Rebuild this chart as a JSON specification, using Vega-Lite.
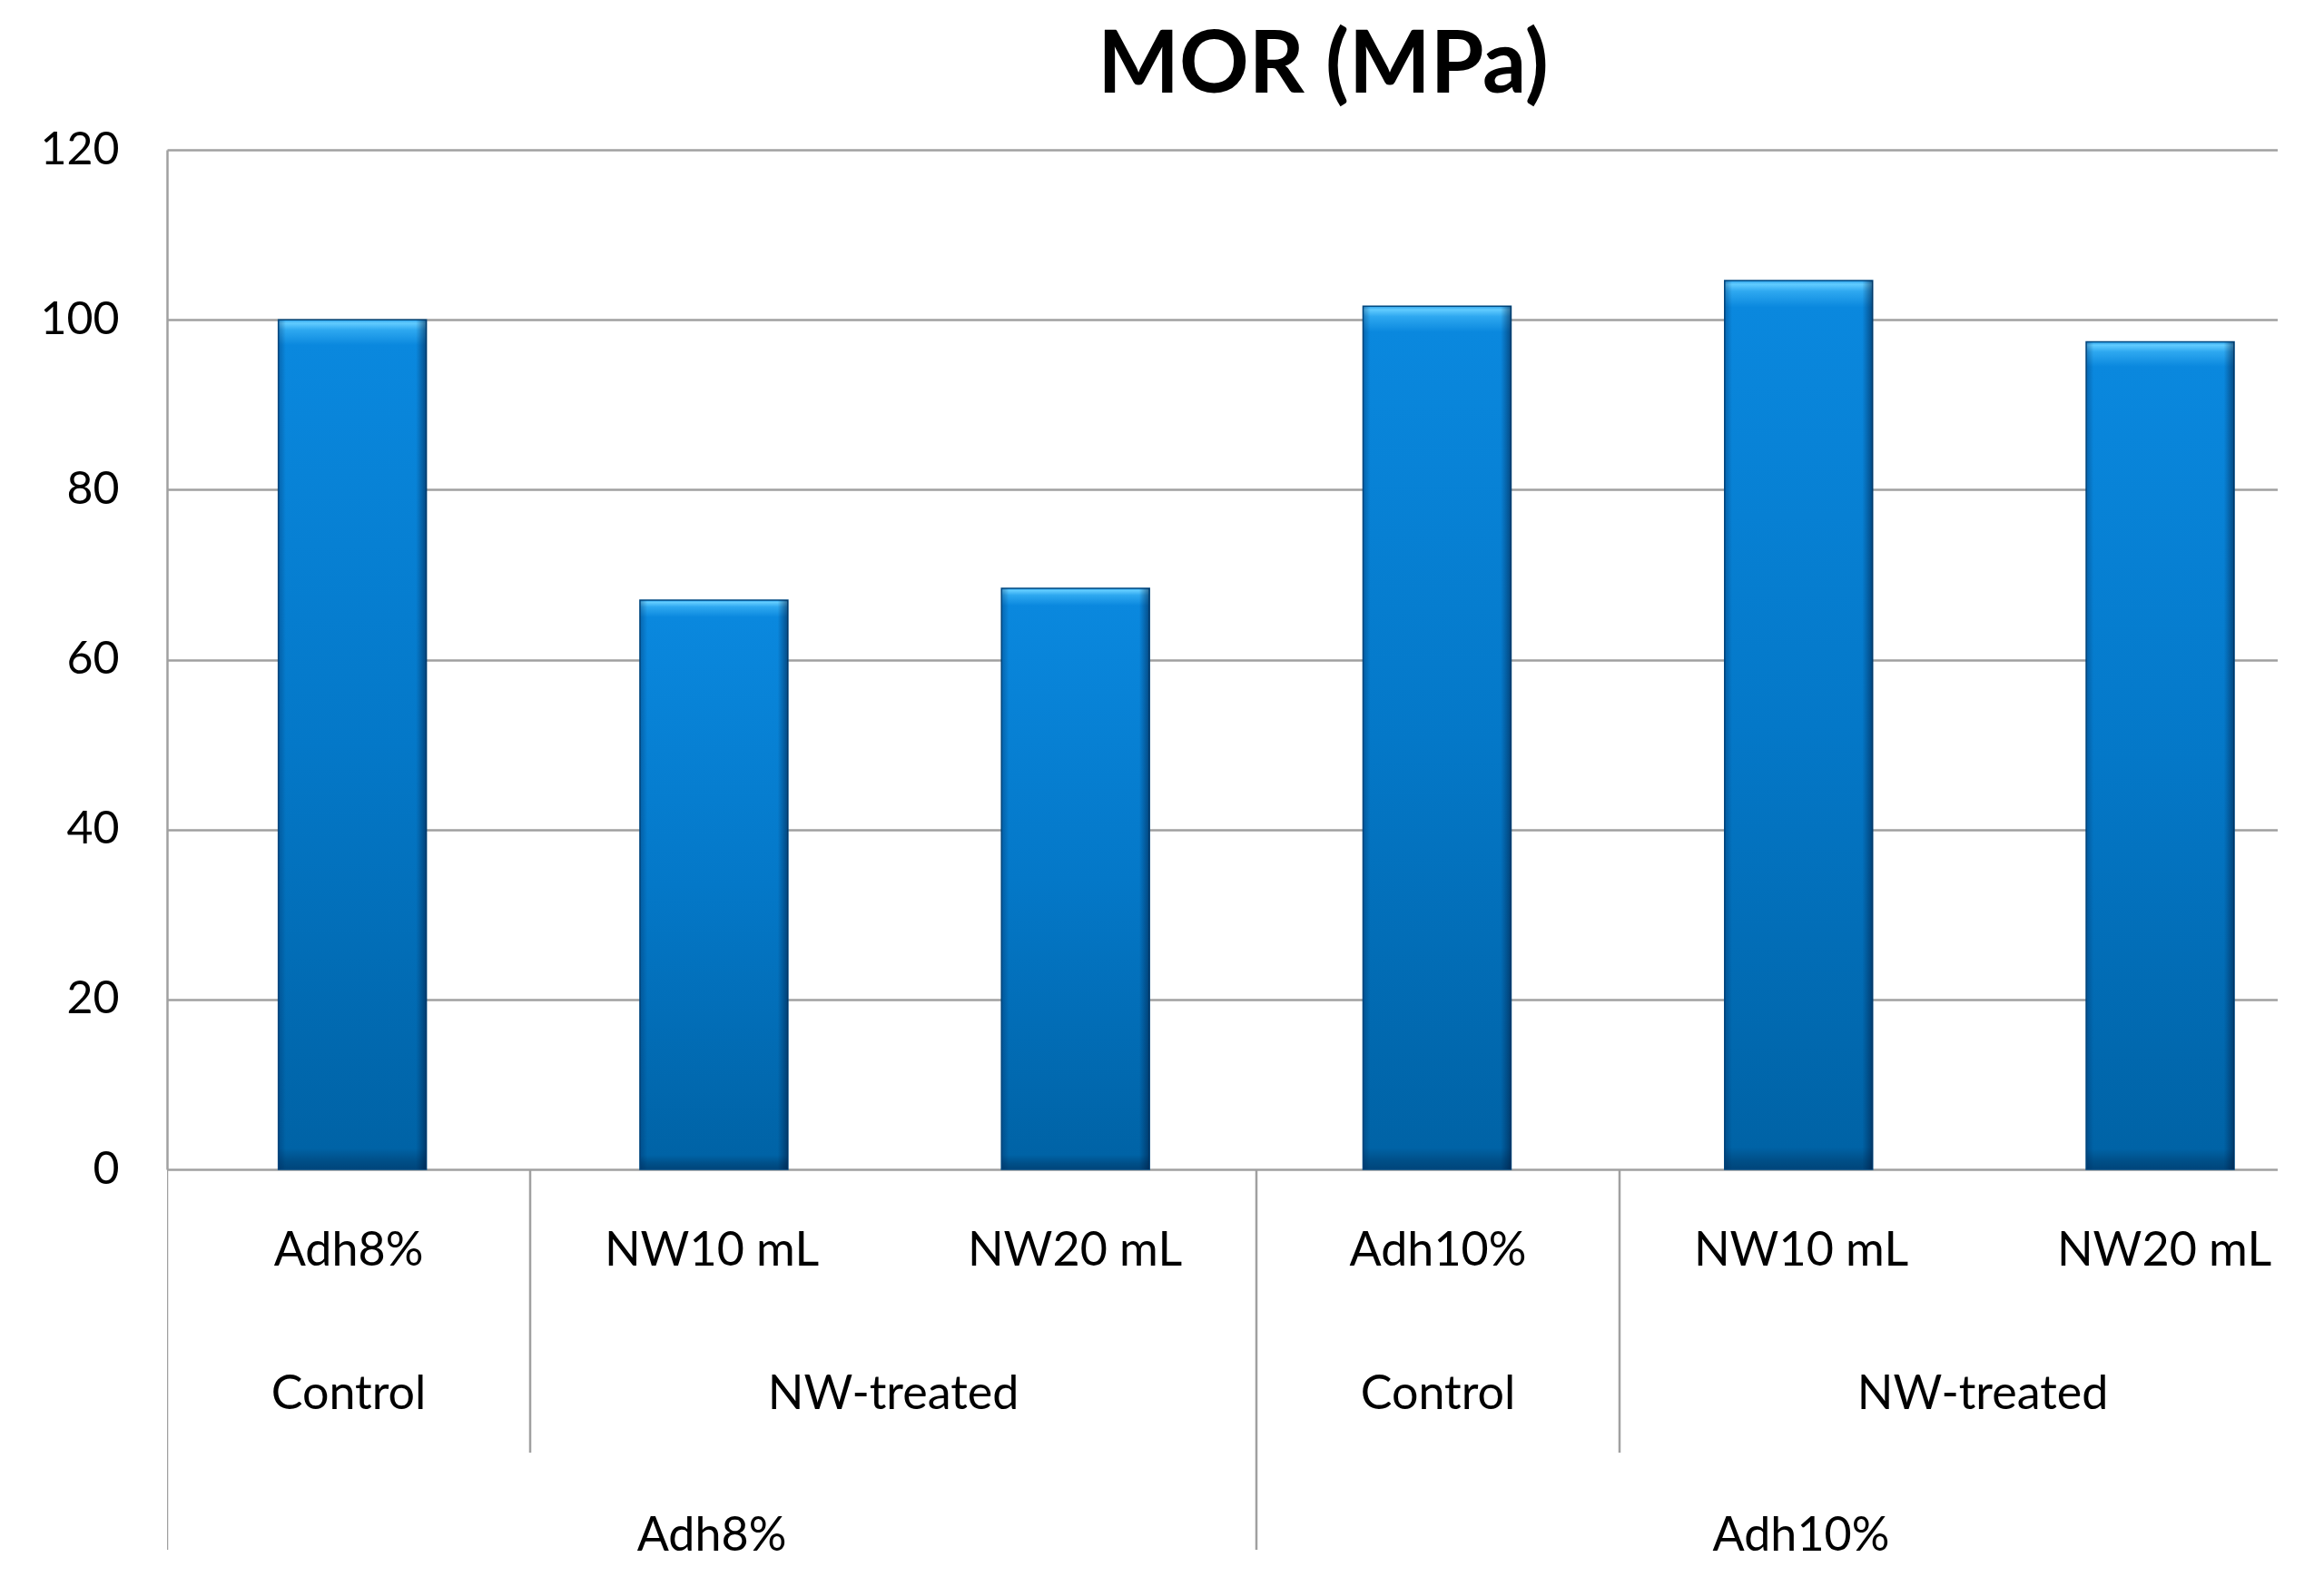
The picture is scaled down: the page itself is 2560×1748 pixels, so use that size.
{
  "$schema": "https://vega.github.io/schema/vega-lite/v6.json",
  "padding": {"left": 43, "top": 26, "right": 0, "bottom": 0},
  "background": "white",
  "bounds": "flush",
  "title": {
    "text": "MOR (MPa)",
    "font": "Lato",
    "fontSize": 95,
    "fontWeight": "bold",
    "color": "#000000",
    "anchor": "middle",
    "frame": "group",
    "baseline": "alphabetic",
    "offset": -57,
    "dx": 111
  },
  "data": {
    "values": [
      {"pos": 1, "name": "Adh8%", "category": "Control", "adh": "Adh8%", "mor": 100.0},
      {"pos": 2, "name": "NW10 mL", "category": "NW-treated", "adh": "Adh8%", "mor": 67.0},
      {"pos": 3, "name": "NW20 mL", "category": "NW-treated", "adh": "Adh8%", "mor": 68.4},
      {"pos": 4, "name": "Adh10%", "category": "Control", "adh": "Adh10%", "mor": 101.6},
      {"pos": 5, "name": "NW10 mL", "category": "NW-treated", "adh": "Adh10%", "mor": 104.6},
      {"pos": 6, "name": "NW20 mL", "category": "NW-treated", "adh": "Adh10%", "mor": 97.4}
    ]
  },
  "spacing": 0,
  "vconcat": [
    {
      "width": 2325,
      "height": 1123,
      "encoding": {
        "x": {"field": "pos", "type": "quantitative", "scale": {"domain": [0.5, 6.3125], "nice": false, "zero": false}, "axis": null},
        "y": {
          "field": "mor",
          "type": "quantitative",
          "scale": {"domain": [0, 120], "nice": false},
          "axis": {
            "title": null,
            "values": [0, 20, 40, 60, 80, 100, 120],
            "grid": true,
            "gridColor": "#a0a0a0",
            "gridWidth": 2.5,
            "domain": true,
            "domainColor": "#a0a0a0",
            "domainWidth": 2.5,
            "ticks": false,
            "tickSize": 0,
            "labelPadding": 53,
            "labelFont": "Lato",
            "labelFontSize": 50,
            "labelColor": "#000000"
          }
        }
      },
      "layer": [
        {
          "mark": {
            "type": "bar",
            "width": 163,
            "stroke": "#004a82",
            "strokeWidth": 1.5,
            "color": {
              "gradient": "linear",
              "x1": 0, "y1": 0, "x2": 0, "y2": 1,
              "stops": [
                {"offset": 0, "color": "#2a9fe8"},
                {"offset": 0.004, "color": "#62ccff"},
                {"offset": 0.012, "color": "#2ea8f0"},
                {"offset": 0.03, "color": "#0a88de"},
                {"offset": 0.5, "color": "#0478c8"},
                {"offset": 0.975, "color": "#0063a6"},
                {"offset": 0.99, "color": "#004f88"},
                {"offset": 1, "color": "#00457a"}
              ]
            }
          }
        },
        {
          "mark": {
            "type": "bar",
            "width": 163,
            "color": {
              "gradient": "linear",
              "x1": 0, "y1": 0, "x2": 1, "y2": 0,
              "stops": [
                {"offset": 0, "color": "rgba(0,40,90,0.35)"},
                {"offset": 0.05, "color": "rgba(0,40,90,0)"},
                {"offset": 0.93, "color": "rgba(0,30,70,0)"},
                {"offset": 1, "color": "rgba(0,25,60,0.55)"}
              ]
            }
          }
        }
      ]
    },
    {
      "width": 2325,
      "height": 419,
      "encoding": {
        "x": {"field": "pos", "type": "quantitative", "scale": {"domain": [0.5, 6.3125], "nice": false, "zero": false}, "axis": null}
      },
      "layer": [
        {
          "transform": [
            {"aggregate": [{"op": "min", "field": "pos", "as": "start"}], "groupby": ["adh", "category"]},
            {"joinaggregate": [{"op": "min", "field": "start", "as": "adhStart"}], "groupby": ["adh"]},
            {"calculate": "datum.start - 0.5", "as": "bx"},
            {"calculate": "datum.start == datum.adhStart ? 3 : 2", "as": "span"}
          ],
          "mark": {"type": "rule", "color": "#a0a0a0", "strokeWidth": 2.5, "clip": true},
          "encoding": {
            "x": {"field": "bx", "type": "quantitative"},
            "y": {"field": "span", "type": "quantitative", "scale": {"domain": [0, 2.686], "nice": false, "zero": false, "reverse": true}, "axis": null},
            "y2": {"datum": 0}
          }
        },
        {
          "mark": {"type": "text", "font": "Lato", "fontSize": 52, "color": "#000000", "baseline": "middle", "dy": 12},
          "encoding": {
            "y": {"datum": 0.5, "type": "quantitative"},
            "text": {"field": "name", "type": "nominal"}
          }
        },
        {
          "transform": [
            {"aggregate": [{"op": "mean", "field": "pos", "as": "mid"}], "groupby": ["adh", "category"]}
          ],
          "mark": {"type": "text", "font": "Lato", "fontSize": 52, "color": "#000000", "baseline": "middle", "dy": 14},
          "encoding": {
            "x": {"field": "mid", "type": "quantitative"},
            "y": {"datum": 1.5, "type": "quantitative"},
            "text": {"field": "category", "type": "nominal"}
          }
        },
        {
          "transform": [
            {"aggregate": [{"op": "mean", "field": "pos", "as": "mid"}], "groupby": ["adh"]}
          ],
          "mark": {"type": "text", "font": "Lato", "fontSize": 52, "color": "#000000", "baseline": "middle", "dy": 14},
          "encoding": {
            "x": {"field": "mid", "type": "quantitative"},
            "y": {"datum": 2.5, "type": "quantitative"},
            "text": {"field": "adh", "type": "nominal"}
          }
        }
      ]
    }
  ],
  "config": {
    "view": {"stroke": null},
    "font": "Lato"
  }
}
